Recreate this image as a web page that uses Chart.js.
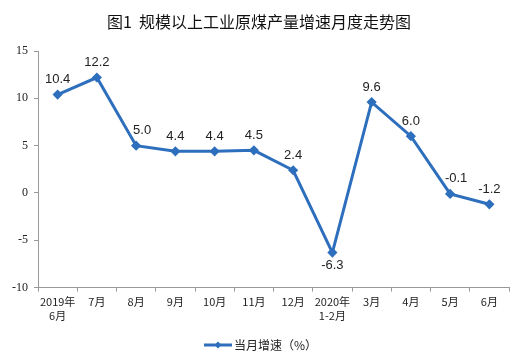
<!DOCTYPE html>
<html>
<head>
<meta charset="utf-8">
<script src="https://cdn.jsdelivr.net/npm/chart.js@4/dist/chart.umd.min.js"></script>
<style>
  html, body { margin: 0; padding: 0; background: #fff; }
  #wrap { width: 515px; height: 362px; position: relative; }
</style>
</head>
<body>
<div id="wrap"><canvas id="chart"></canvas></div>
<script>
let months = [["2019年", "6月"], "7月", "8月", "9月", "10月", "11月", "12月", ["2020年", "1-2月"], "3月", "4月", "5月", "6月"];
let growth = [10.4, 12.2, 5.0, 4.4, 4.4, 4.5, 2.4, -6.3, 9.6, 6.0, -0.1, -1.2];
let seriesName = "当月增速（%）";
let chartTitle = "图1  规模以上工业原煤产量增速月度走势图";

let cjk = "'Noto Sans CJK SC', sans-serif";
let blue = "#2e6fbd";

// value labels above each point (below for the dip)
let pointLabels = {
    id: "pointLabels",
    afterDatasetsDraw: function(chart) {
        let ctx = chart.ctx;
        let meta = chart.getDatasetMeta(0);
        ctx.save();
        ctx.font = "13px 'Liberation Sans', Arial, sans-serif";
        ctx.fillStyle = "#222";
        ctx.textAlign = "center";
        meta.data.forEach(function(pt, i) {
            let v = growth[i];
            let next = growth[i + 1];
            let prev = growth[i - 1];
            if (v < -3) {
                ctx.textBaseline = "top";
                ctx.fillText(v.toFixed(1), pt.x, pt.y + 6);
            } else {
                // shift right a bit when the line comes down steeply into the point
                let dx = (prev !== undefined && prev - v > 5 && next !== undefined && next < v) ? 6 : 0;
                ctx.textBaseline = "middle";
                ctx.fillText(v.toFixed(1), pt.x + dx, pt.y - 15);
            }
        });
        ctx.restore();
    }
};

let titleAndLegend = {
    id: "titleAndLegend",
    afterDraw: function(chart) {
        let ctx = chart.ctx;
        ctx.save();
        ctx.font = "16px " + cjk;
        ctx.fillStyle = "#111";
        ctx.textAlign = "center";
        ctx.textBaseline = "middle";
        ctx.fillText(chartTitle, 259, 22);

        // legend: line with a diamond marker, then the name
        let ly = 345;
        ctx.strokeStyle = blue;
        ctx.lineWidth = 3;
        ctx.beginPath();
        ctx.moveTo(204, ly);
        ctx.lineTo(232, ly);
        ctx.stroke();
        ctx.fillStyle = blue;
        ctx.beginPath();
        ctx.moveTo(218, ly - 3.5);
        ctx.lineTo(221.5, ly);
        ctx.lineTo(218, ly + 3.5);
        ctx.lineTo(214.5, ly);
        ctx.closePath();
        ctx.fill();
        ctx.font = "12px " + cjk;
        ctx.fillStyle = "#222";
        ctx.textAlign = "left";
        ctx.fillText(seriesName, 234, ly);
        ctx.restore();
    }
};

new Chart(document.querySelector("#chart").getContext("2d"), {
    type: "line",
    data: {
        labels: months,
        datasets: [{
            label: seriesName,
            data: growth,
            borderColor: blue,
            backgroundColor: blue,
            borderWidth: 3,
            pointStyle: "rectRot",
            pointRadius: 3,
            pointHoverRadius: 3,
            tension: 0
        }]
    },
    options: {
        responsive: true,
        maintainAspectRatio: false,
        animation: false,
        layout: { padding: { top: 51, right: 3, left: 0, bottom: 36 } },
        plugins: {
            tooltip: { enabled: false },
            legend: { display: false }
        },
        scales: {
            x: {
                offset: true,
                afterFit: function(scale) { scale.paddingRight = 0; scale.paddingLeft = 0; },
                grid: { display: true, drawOnChartArea: false, drawTicks: true, tickLength: 4, color: "#999", offset: true },
                border: { color: "#999", width: 1 },
                ticks: {
                    color: "#222",
                    font: { family: cjk, size: 11 },
                    maxRotation: 0,
                    autoSkip: false,
                    padding: 4
                }
            },
            y: {
                min: -10,
                max: 15,
                afterFit: function(scale) { scale.width = 38; },
                grid: { display: true, drawOnChartArea: false, drawTicks: true, tickLength: 4, color: "#999" },
                border: { color: "#999", width: 1 },
                ticks: {
                    stepSize: 5,
                    color: "#222",
                    font: { family: "'Liberation Serif', 'Times New Roman', serif", size: 12 },
                    padding: 6
                }
            }
        }
    },
    plugins: [pointLabels, titleAndLegend]
});
</script>
</body>
</html>
